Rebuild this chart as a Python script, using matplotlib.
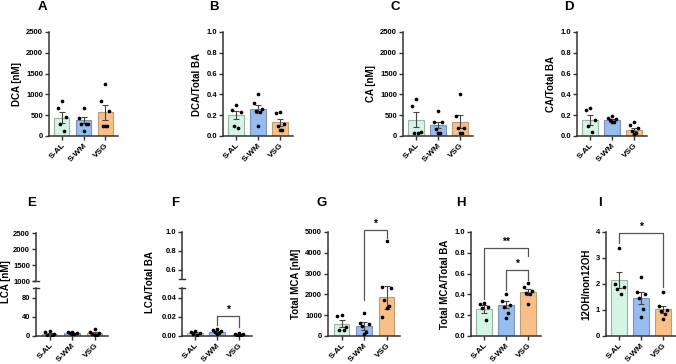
import numpy as np
import matplotlib
matplotlib.use('Agg')
import matplotlib.pyplot as plt

plt.rcParams['font.family'] = ['Liberation Sans', 'DejaVu Sans']
plt.rcParams['font.weight'] = 'bold'

groups = ['S-AL', 'S-WM', 'VSG']
face = ['#d4f5e5', '#96bdf0', '#f8c088']
edge = ['#9db3a8', '#7f93ad', '#bf9c78']

# A  DCA [nM]
dca_mean = [440, 380, 565]
dca_sem = [135, 75, 170]
dca_pts = [[840, 670, 460, 300, 110], [670, 440, 300, 300, 290, 120], [1260, 850, 600, 230, 230, 230]]
# B  DCA/Total BA
dcar_mean = [0.20, 0.26, 0.13]
dcar_sem = [0.04, 0.04, 0.03]
dcar_pts = [[0.30, 0.25, 0.23, 0.10, 0.08], [0.40, 0.32, 0.26, 0.24, 0.23, 0.10], [0.23, 0.22, 0.12, 0.10, 0.06, 0.06]]
# C  CA [nM]
ca_mean = [395, 258, 347]
ca_sem = [175, 70, 155]
ca_pts = [[890, 720, 90, 80, 80], [600, 340, 330, 180, 80, 80], [1000, 480, 200, 200, 80, 80]]
# D  CA/Total BA
car_mean = [0.155, 0.15, 0.06]
car_sem = [0.045, 0.015, 0.015]
car_pts = [[0.27, 0.25, 0.15, 0.10, 0.04], [0.19, 0.17, 0.16, 0.15, 0.13, 0.13], [0.13, 0.11, 0.08, 0.05, 0.03, 0.02]]
# E  LCA [nM]
lca_mean = [5, 6, 6]
lca_sem = [1.5, 0.8, 1.6]
lca_pts = [[10, 8, 5, 2, 1], [9, 8, 7, 6, 5, 4], [14, 8, 6, 4, 3, 2]]
# F  LCA/Total BA
lcar_mean = [0.003, 0.0042, 0.0015]
lcar_sem = [0.0008, 0.0007, 0.0003]
lcar_pts = [[0.005, 0.004, 0.003, 0.002, 0.001], [0.007, 0.006, 0.005, 0.004, 0.003, 0.002], [0.003, 0.002, 0.002, 0.001, 0.001, 0.001]]
# G  Total MCA [nM]
mca_mean = [580, 500, 1860]
mca_sem = [170, 190, 540]
mca_pts = [[1010, 980, 420, 300, 290], [1120, 620, 560, 480, 200, 100], [4550, 2350, 2300, 1750, 1450, 1350, 930]]
# H  Total MCA/Total BA
mcar_mean = [0.26, 0.30, 0.42]
mcar_sem = [0.035, 0.035, 0.03]
mcar_pts = [[0.32, 0.31, 0.28, 0.27, 0.15], [0.40, 0.34, 0.30, 0.28, 0.22, 0.17], [0.51, 0.47, 0.43, 0.41, 0.40, 0.31]]
# I  12OH/non12OH
oh_mean = [2.14, 1.47, 1.03]
oh_sem = [0.31, 0.22, 0.14]
oh_pts = [[3.4, 2.0, 1.9, 1.8, 1.6], [2.27, 1.7, 1.6, 1.45, 1.05, 0.75], [1.7, 1.15, 1.0, 0.95, 0.85, 0.65]]

W, H = 676, 364
fig = plt.figure(figsize=(W / 100, H / 100), dpi=100)


def rect(x0, x1, ytop, ybot):
    return [x0 / W, (H - ybot) / H, (x1 - x0) / W, (ybot - ytop) / H]


def style(ax, bottom=True):
    for s in ['top', 'right']:
        ax.spines[s].set_visible(False)
    for s in ['left', 'bottom']:
        ax.spines[s].set_linewidth(1.1)
        ax.spines[s].set_color('#333333')
    ax.tick_params(width=1.0, length=3, labelsize=5.5, color='#333333', pad=1.2)
    ax.set_xlim(-0.6, 2.6)
    if bottom:
        ax.set_xticks(range(3))
        ax.set_xticklabels(groups, rotation=45, ha='right', rotation_mode='anchor',
                           fontsize=6, fontweight='bold')
    else:
        ax.spines['bottom'].set_visible(False)
        ax.set_xticks([])


def offsets(n):
    pat = [0.0, -0.2, 0.2, -0.1, 0.1, 0.0, -0.2]
    return pat[:n]


def bars(ax, mean, sem, pts):
    x = np.arange(3)
    ax.bar(x, mean, width=0.7, color=face, edgecolor=edge, linewidth=0.8, zorder=1)
    ax.errorbar(x, mean, yerr=sem, fmt='none', ecolor='#444444', elinewidth=0.8,
                capsize=2.2, capthick=0.8, zorder=2)
    for i, p in enumerate(pts):
        p = sorted(p, reverse=True)
        ax.scatter(i + np.array(offsets(len(p))), p, s=7, color='black', zorder=3, linewidths=0)


def sig(ax, x1, x2, y, l1, l2, txt, dy):
    ax.plot([x1, x1, x2, x2], [l1, y, y, l2], color='#555555', lw=0.9, clip_on=False, zorder=4)
    ax.text((x1 + x2) / 2, y + dy, txt, ha='center', va='center', fontsize=7.5,
            fontweight='bold', clip_on=False)


def letter(x, y, t):
    fig.text(x / W, 1 - y / H, t, fontsize=9.5, fontweight='bold', ha='center', va='center')


def ylab(ax, t):
    ax.set_ylabel(t, fontsize=7, fontweight='bold', labelpad=3)


# top row
top = [
    (49, 118, dca_mean, dca_sem, dca_pts, 'DCA [nM]', 2500, [0, 500, 1000, 1500, 2000, 2500], 'A', 42),
    (223, 293, dcar_mean, dcar_sem, dcar_pts, 'DCA/Total BA', 1.0, [0.0, 0.2, 0.4, 0.6, 0.8, 1.0], 'B', 214),
    (403, 473, ca_mean, ca_sem, ca_pts, 'CA [nM]', 2500, [0, 500, 1000, 1500, 2000, 2500], 'C', 395),
    (577, 647, car_mean, car_sem, car_pts, 'CA/Total BA', 1.0, [0.0, 0.2, 0.4, 0.6, 0.8, 1.0], 'D', 569),
]
for x0, x1, m, s, p, lab, ymax, ticks, L, lx in top:
    ax = fig.add_axes(rect(x0, x1, 32, 136))
    style(ax)
    bars(ax, m, s, p)
    ax.set_ylim(0, ymax)
    ax.set_yticks(ticks)
    if ymax == 1.0:
        ax.set_yticklabels(['%.1f' % t for t in ticks])
    ylab(ax, lab)
    letter(lx, 7, L)


def broken(x0, x1, ytop, ymid1, ymid2, up_lim, up_ticks, up_lbl, lo_lim, lo_ticks, lo_lbl,
           m, s, p):
    up = fig.add_axes(rect(x0, x1, ytop, ymid1))
    lo = fig.add_axes(rect(x0, x1, ymid2, 336))
    style(up, bottom=False)
    style(lo)
    up.set_ylim(*up_lim)
    up.set_yticks(up_ticks)
    up.set_yticklabels(up_lbl)
    lo.set_ylim(*lo_lim)
    lo.set_yticks(lo_ticks)
    lo.set_yticklabels(lo_lbl)
    bars(lo, m, s, p)
    up.plot([-0.045, 0.045], [0, 0], transform=up.transAxes, color='#333333', lw=1.0, clip_on=False)
    lo.plot([-0.045, 0.045], [1, 1], transform=lo.transAxes, color='#333333', lw=1.0, clip_on=False)
    return up, lo


# E
broken(36, 108, 233, 281, 288, (1000, 2500), [1000, 1500, 2000, 2500],
       ['1000', '1500', '2000', '2500'], (0, 100), [0, 40, 80], ['0', '40', '80'],
       lca_mean, lca_sem, lca_pts)
fig.text(6 / W, 1 - 282 / H, 'LCA [nM]', rotation=90, fontsize=7, fontweight='bold',
         ha='center', va='center')
letter(32, 203, 'E')

# F
upF, loF = broken(182, 252, 232, 279, 288, (0.5, 1.0), [0.6, 0.8, 1.0], ['0.6', '0.8', '1.0'],
                  (0, 0.05), [0.0, 0.02, 0.04], ['0.00', '0.02', '0.04'],
                  lcar_mean, lcar_sem, lcar_pts)
sig(loF, 1, 2, 0.021, 0.011, 0.009, '*', 0.006)
fig.text(150 / W, 1 - 282 / H, 'LCA/Total BA', rotation=90, fontsize=7, fontweight='bold',
         ha='center', va='center')
letter(175, 203, 'F')

# G
ax = fig.add_axes(rect(328, 400, 232, 336))
style(ax)
bars(ax, mca_mean, mca_sem, mca_pts)
ax.set_ylim(0, 5000)
ax.set_yticks([0, 1000, 2000, 3000, 4000, 5000])
ylab(ax, 'Total MCA [nM]')
sig(ax, 1, 2, 5080, 1750, 4700, '*', 300)
letter(322, 203, 'G')

# H
ax = fig.add_axes(rect(471, 541, 232, 336))
style(ax)
bars(ax, mcar_mean, mcar_sem, mcar_pts)
ax.set_ylim(0, 1.0)
ax.set_yticks([0.0, 0.2, 0.4, 0.6, 0.8, 1.0])
ax.set_yticklabels(['0.0', '0.2', '0.4', '0.6', '0.8', '1.0'])
ylab(ax, 'Total MCA/Total BA')
sig(ax, 0, 2, 0.845, 0.36, 0.77, '**', 0.06)
sig(ax, 1, 2, 0.635, 0.44, 0.54, '*', 0.06)
letter(461, 203, 'H')

# I
ax = fig.add_axes(rect(606, 676, 232, 336))
style(ax)
bars(ax, oh_mean, oh_sem, oh_pts)
ax.set_ylim(0, 4)
ax.set_yticks([0, 1, 2, 3, 4])
ylab(ax, '12OH/non12OH')
sig(ax, 0, 2, 3.95, 3.57, 1.9, '*', 0.24)
letter(600, 203, 'I')

fig.savefig('out.png', dpi=100)
